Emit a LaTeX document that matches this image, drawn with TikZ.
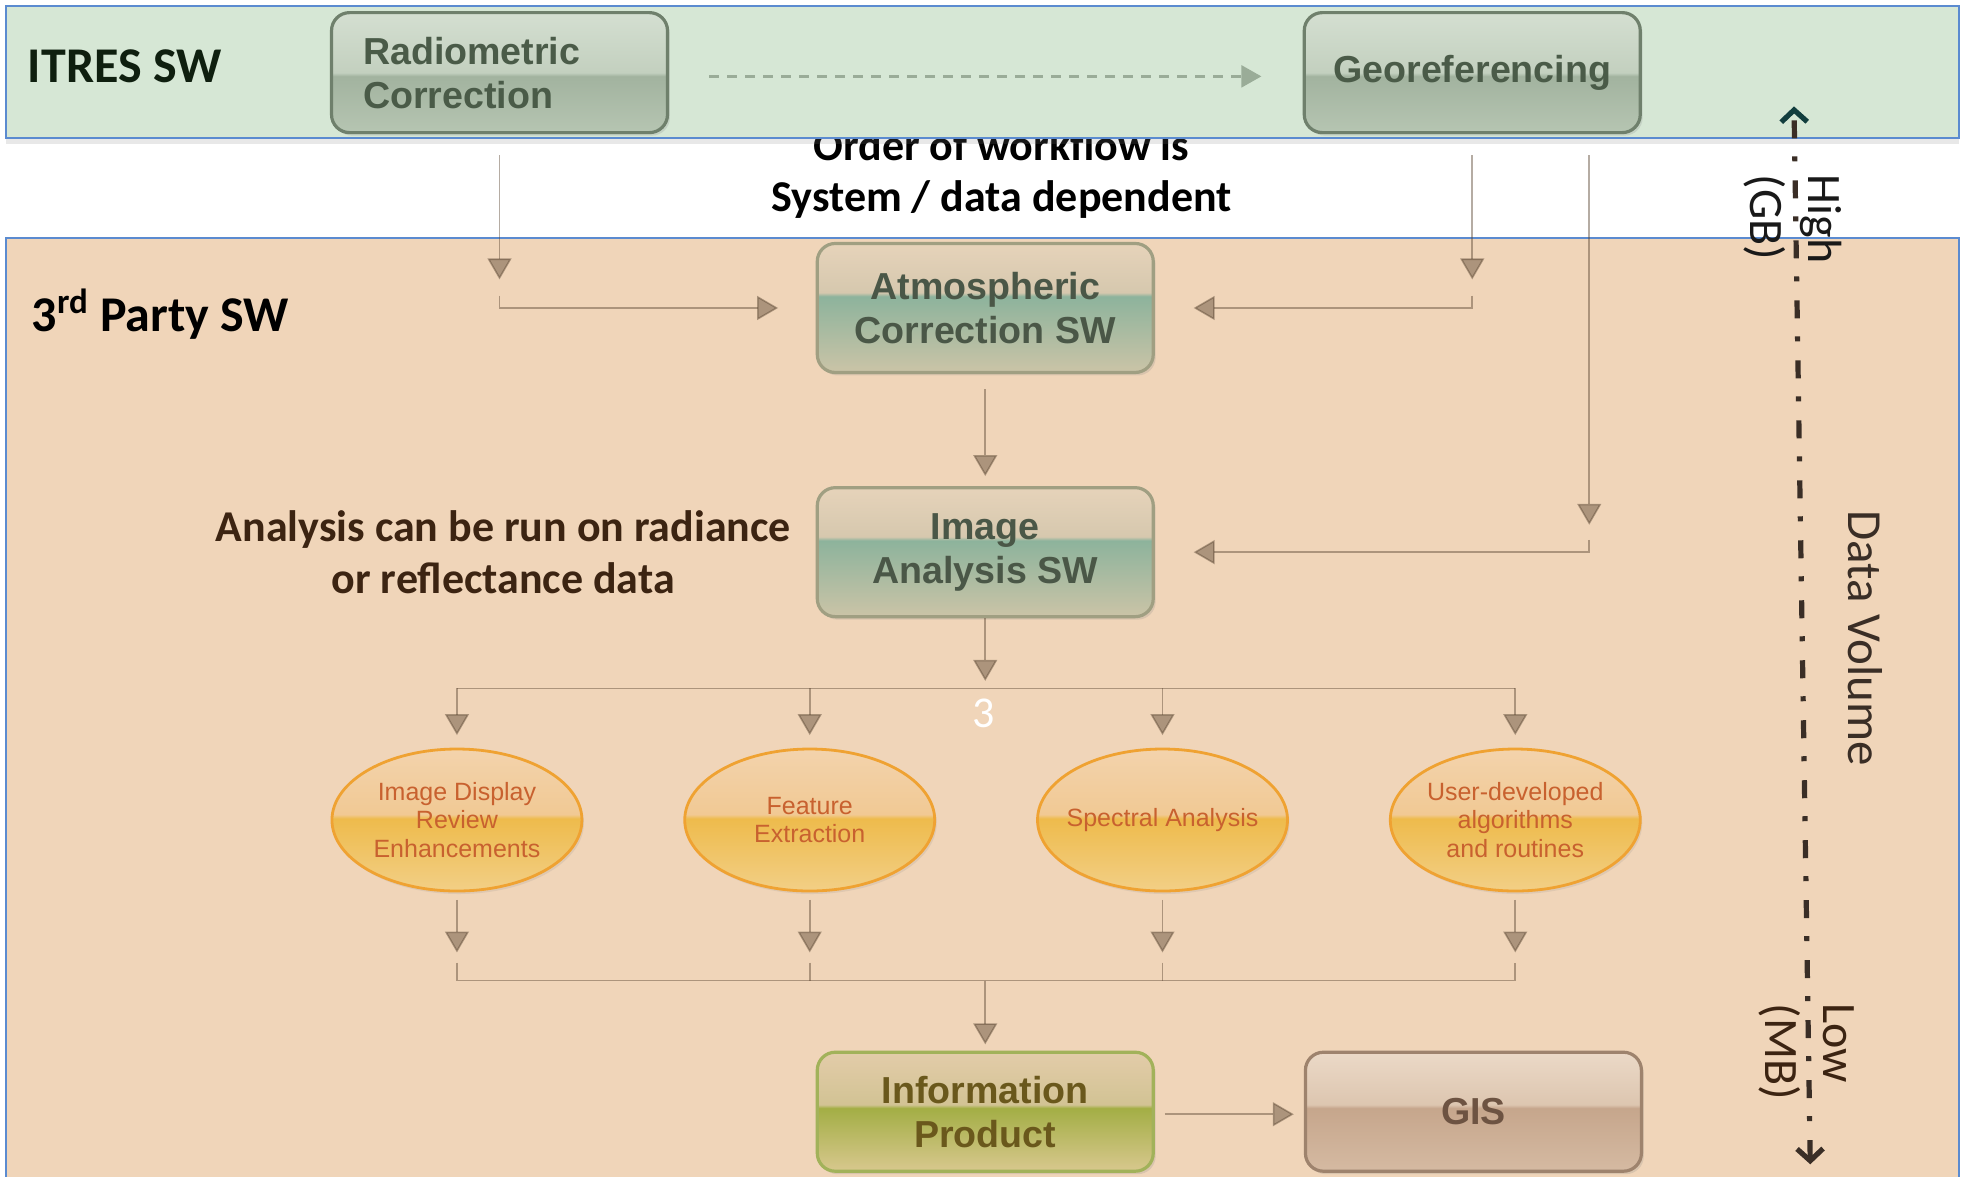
\documentclass[tikz,border=0pt]{standalone}
\usepackage{fontspec}
\newfontfamily\lblfont{Carlito}
\newfontfamily\boxfont{Liberation Sans}
\usetikzlibrary{arrows.meta,positioning,calc,shapes.geometric,shadows}

\definecolor{bandline}{HTML}{5B8BD0}
\definecolor{greenband}{HTML}{D6E7D5}
\definecolor{peachband}{HTML}{F0D5B9}
\definecolor{rgTop}{HTML}{D4DFD1}\definecolor{rgHi}{HTML}{C3D0BF}\definecolor{rgMid}{HTML}{A2B39F}\definecolor{rgBot}{HTML}{B6C5B2}
\definecolor{rgline}{HTML}{6F806C}\definecolor{rgtext}{HTML}{4A5B48}
\definecolor{atTop}{HTML}{E6D3BA}\definecolor{atHi}{HTML}{D6C8AE}\definecolor{atMid}{HTML}{8DB39C}\definecolor{atBot}{HTML}{CBC4A7}
\definecolor{atline}{HTML}{A09F82}\definecolor{attext}{HTML}{4A5747}
\definecolor{inTop}{HTML}{E3CCA9}\definecolor{inHi}{HTML}{D2C394}\definecolor{inMid}{HTML}{A3AE45}\definecolor{inBot}{HTML}{D8C88E}
\definecolor{inline}{HTML}{A2B25A}\definecolor{intext}{HTML}{6A581C}
\definecolor{giTop}{HTML}{EBD9C7}\definecolor{giHi}{HTML}{DDC6B0}\definecolor{giMid}{HTML}{C6A68C}\definecolor{giBot}{HTML}{D5BAA2}
\definecolor{giline}{HTML}{9E836D}\definecolor{gitext}{HTML}{6D5342}
\definecolor{elTop}{HTML}{F3D3AC}\definecolor{elHi}{HTML}{F1C994}\definecolor{elMid}{HTML}{EEBB4C}\definecolor{elBot}{HTML}{F2CF86}
\definecolor{elline}{HTML}{EFA232}\definecolor{eltext}{HTML}{C8612F}
\definecolor{connc}{HTML}{5A4632}
\definecolor{dashc}{HTML}{9AAC98}
\definecolor{volc}{HTML}{3A2E26}
\definecolor{voltop}{HTML}{123E3E}
\definecolor{labelbrown}{HTML}{3C2412}
\definecolor{itresc}{HTML}{0F1F0F}

\pgfdeclareverticalshading{rgshade}{100bp}{color(0bp)=(rgBot); color(25bp)=(rgBot); color(48.5bp)=(rgMid); color(50bp)=(rgHi); color(75bp)=(rgTop); color(100bp)=(rgTop)}
\pgfdeclareverticalshading{atshade}{100bp}{color(0bp)=(atBot); color(25bp)=(atBot); color(54.5bp)=(atMid); color(56bp)=(atHi); color(75bp)=(atTop); color(100bp)=(atTop)}
\pgfdeclareverticalshading{inshade}{100bp}{color(0bp)=(inBot); color(25bp)=(inBot); color(51.5bp)=(inMid); color(53bp)=(inHi); color(75bp)=(inTop); color(100bp)=(inTop)}
\pgfdeclareverticalshading{gishade}{100bp}{color(0bp)=(giBot); color(25bp)=(giBot); color(51.5bp)=(giMid); color(53bp)=(giHi); color(75bp)=(giTop); color(100bp)=(giTop)}
\pgfdeclareverticalshading{elshade}{100bp}{color(0bp)=(elBot); color(25bp)=(elBot); color(50.5bp)=(elMid); color(52bp)=(elHi); color(75bp)=(elTop); color(100bp)=(elTop)}

\begin{document}
\begin{tikzpicture}[x=0.626pt, y=-0.626pt,
  band/.style={draw=bandline, line width=0.9pt},
  boxbase/.style={rounded corners=9pt, line width=1.6pt, font=\boxfont\bfseries\fontsize{18.8pt}{22pt}\selectfont, minimum width=168pt, minimum height=60pt, inner sep=2pt, align=center, drop shadow={opacity=0.2, shadow xshift=1.2pt, shadow yshift=-1.5pt}},
  itresbox/.style={boxbase, draw=rgline, shading=rgshade, text=rgtext},
  swbox/.style={boxbase, minimum height=64.5pt, draw=atline, shading=atshade, text=attext},
  prodbox/.style={boxbase, minimum height=59.5pt, draw=inline, shading=inshade, text=intext},
  gisbox/.style={boxbase, minimum height=59.5pt, draw=giline, shading=gishade, text=gitext},
  task/.style={ellipse, minimum width=125pt, minimum height=71pt, inner sep=0pt, inner xsep=-4pt, line width=1.4pt, draw=elline, shading=elshade, text=eltext, align=center, font=\boxfont\fontsize{12.5pt}{14.4pt}\selectfont, drop shadow={opacity=0.15, shadow xshift=1pt, shadow yshift=-1.5pt}},
  title/.style={font=\lblfont\bfseries\fontsize{25pt}{30pt}\selectfont, inner sep=0pt},
  note/.style={font=\lblfont\bfseries\fontsize{22pt}{25.8pt}\selectfont, align=center},
  side/.style={font=\lblfont\fontsize{24pt}{29.4pt}\selectfont, rotate=-90},
  conn/.style={draw=connc, draw opacity=0.45, fill opacity=0.45, line width=0.8pt, -{Triangle[width=12pt, length=10.5pt, fill=connc]}},
  plain/.style={draw=connc, draw opacity=0.45, line width=0.8pt},
  dashconn/.style={draw=dashc, line width=1.2pt, dash pattern=on 5pt off 4pt, -{Triangle[width=11pt, length=10pt]}},
  volarrow/.style={draw=volc, line width=2.6pt, dash pattern=on 9pt off 9.5pt on 2.5pt off 9pt, {Straight Barb[length=6pt, width=13pt]}-{Straight Barb[length=6pt, width=13pt, color=voltop]}}
]
\useasboundingbox (0,0) rectangle (1568,940);
% 两个背景带:下方 3rd party 区,上方 ITRES 区(压住说明文字顶部)
\draw[band, fill=peachband] (5,190) rectangle (1565,960);
\node[note, text=black] (order) at (800,139) {Order of workflow is\\System / data dependent};
\draw[band, fill=greenband, drop shadow={opacity=0.18, shadow xshift=0pt, shadow yshift=-3pt}] (5,5) rectangle (1565,110);
\node[title, text=itresc, anchor=west] (itres) at (22,53) {ITRES SW};
\node[title, text=black, anchor=west] (third) at (25,251) {3\textsuperscript{rd} Party SW};
% 上排 ITRES 两框
\node[itresbox, text width=136.5pt, inner xsep=15.6pt, align=left] (rad) at (399,58) {Radiometric\\Correction};
\node[itresbox] (geo) at (1176,58) {Georeferencing};
% 中列:大气校正与图像分析
\node[swbox] (atm) at (787,246) {Atmospheric\\Correction SW};
\node[swbox, below=56pt of atm] (ia) {Image\\Analysis SW};
\node[note, text=labelbrown] (radnote) at (402,441) {Analysis can be run on radiance\\or reflectance data};
% 四个分析椭圆,水平间距统一
\node[task] (e1) at (365,655) {Image Display\\Review\\Enhancements};
\node[task, right=50pt of e1] (e2) {Feature\\Extraction};
\node[task, right=50pt of e2] (e3) {Spectral Analysis};
\node[task, right=50pt of e3] (e4) {User-developed\\algorithms\\and routines};
% 底排:产品与 GIS
\node[prodbox] (info) at (787,888) {Information\\Product};
\node[gisbox, right=74.5pt of info] (gis) {GIS};
\node[font=\lblfont\fontsize{22pt}{26pt}\selectfont, text=white] (pagenum) at (786,570) {3};
% 数据量轴
\node[side, text=volc, font=\lblfont\fontsize{24.5pt}{29pt}\selectfont] (vol) at (1490,510) {Data Volume};
\node[side, align=left, text=black!90] (high) at (1432,175) {High\\(GB)};
\node[side, align=left, text=labelbrown] (low) at (1443,840) {Low\\(MB)};
\coordinate (vtop) at (1433,85);
\coordinate (vbot) at (1446,930);
\draw[volarrow] (vbot) -- (vtop);
% 连线:ITRES 两框往下接大气校正;右侧支线接图像分析
\draw[dashconn] ($(rad.east)+(32,3)$) -- ($(geo.west)+(-33,3)$);
\draw[conn] ($(rad.south)+(0,17)$) -- ($(rad.south)+(0,116)$);
\draw[conn] ($(rad.south)+(0,129)$) |- ($(atm.west)+(-30,0)$);
\draw[conn] ($(geo.south)+(0,17)$) -- ($(geo.south)+(0,116)$);
\draw[conn] ($(geo.south)+(0,129)$) |- ($(atm.east)+(31,0)$);
\draw[conn] ($(geo.south east)+(-42,17)$) -- ($(geo.south east)+(-42,312)$);
\draw[conn] ($(geo.south east)+(-42,324)$) |- ($(ia.east)+(31,0)$);
\draw[conn] ($(atm.south)+(0,12)$) -- ($(ia.north)+(0,-8)$);
% 分叉到四个椭圆,再汇合到产品
\coordinate (split) at ($(ia.south)+(0,56)$);
\coordinate (merge) at ($(info.north)+(0,-56)$);
\draw[conn] (ia.south) -- ($(ia.south)+(0,50)$);
\draw[plain] (split -| e1.north) -- (split -| e4.north);
\draw[conn] (split -| e1.north) -- ($(e1.north)+(0,-10)$);
\draw[conn] (split -| e2.north) -- ($(e2.north)+(0,-10)$);
\draw[conn] (split -| e3.north) -- ($(e3.north)+(0,-10)$);
\draw[conn] (split -| e4.north) -- ($(e4.north)+(0,-10)$);
\draw[conn] ($(e1.south)+(0,6)$) -- ($(e1.south)+(0,48)$);
\draw[conn] ($(e2.south)+(0,6)$) -- ($(e2.south)+(0,48)$);
\draw[conn] ($(e3.south)+(0,6)$) -- ($(e3.south)+(0,48)$);
\draw[conn] ($(e4.south)+(0,6)$) -- ($(e4.south)+(0,48)$);
\draw[plain] ($(e1.south)+(0,56)$) |- (merge -| e4.south) -- ($(e4.south)+(0,56)$);
\draw[plain] ($(e2.south)+(0,56)$) -- (merge -| e2.south);
\draw[plain] ($(e3.south)+(0,56)$) -- (merge -| e3.south);
\draw[conn] (merge) -- ($(info.north)+(0,-5)$);
\draw[conn] ($(info.east)+(8,2)$) -- ($(gis.west)+(-8,2)$);
\end{tikzpicture}
\end{document}
